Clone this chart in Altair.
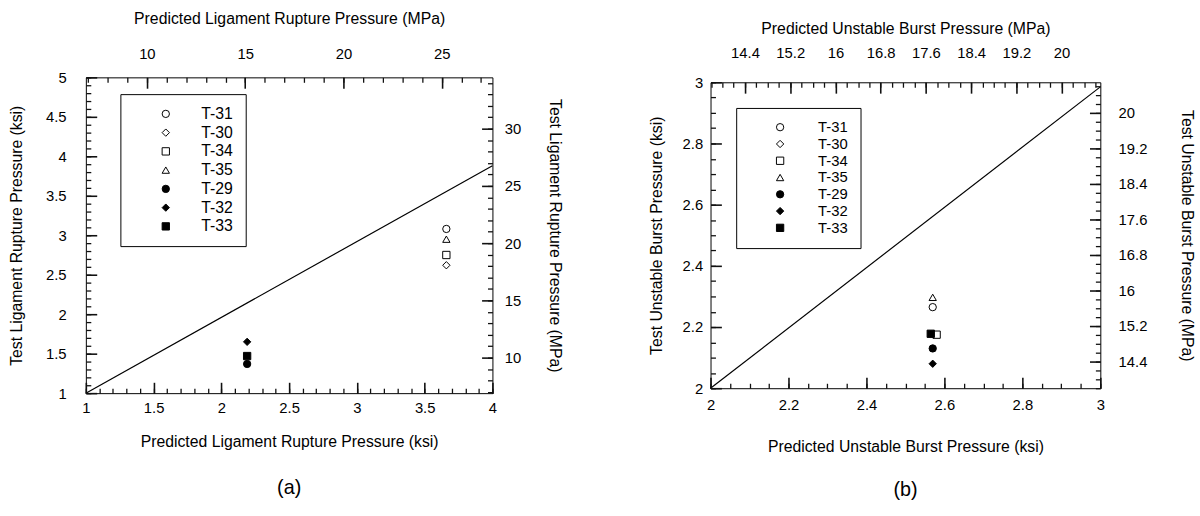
import altair as alt
import pandas as pd

K = 6.895  # MPa per ksi

SERIES = ["T-31", "T-30", "T-34", "T-35", "T-29", "T-32", "T-33"]
SHAPES = ["circle", "diamond", "square", "triangle-up", "circle", "diamond", "square"]
FILLS = ["white", "white", "white", "white", "black", "black", "black"]
STROKES = ["black"] * 7

# ---- panel (a) data ----
a_names = ["T-31", "T-30", "T-34", "T-35", "T-29", "T-32", "T-33"]
a_pred = [3.66, 3.66, 3.66, 3.66, 2.19, 2.19, 2.19]
a_test = [3.08, 2.62, 2.75, 2.95, 1.37, 1.65, 1.47]
a_line_x = [1.0, 4.0]
a_line_y = [1.0, 3.88]
a_xticks = [1, 1.5, 2, 2.5, 3, 3.5, 4]
a_yticks = [1, 1.5, 2, 2.5, 3, 3.5, 4, 4.5, 5]
a_top_ticks = [10, 15, 20, 25]
a_right_ticks = [10, 15, 20, 25, 30]

# ---- panel (b) data ----
b_names = ["T-31", "T-34", "T-35", "T-29", "T-32", "T-33"]
b_pred = [2.57, 2.58, 2.57, 2.57, 2.57, 2.565]
b_test = [2.265, 2.175, 2.297, 2.13, 2.08, 2.178]
b_line_x = [2.0, 3.0]
b_line_y = [2.0, 2.985]
b_xticks = [2, 2.2, 2.4, 2.6, 2.8, 3]
b_yticks = [2, 2.2, 2.4, 2.6, 2.8, 3]
b_mpa_ticks = [14.4, 15.2, 16, 16.8, 17.6, 18.4, 19.2, 20]

MAJOR = 11
MINOR = 5


def minor(lo, hi, step):
    n = int(round((hi - lo) / step))
    return [round(lo + i * step, 4) for i in range(n + 1)]


def axis(orient, values, tick, labels=False, title=None, lp=4, tp=10, tw=1.6):
    kw = dict(orient=orient, values=values, tickSize=tick, offset=-tick,
              domain=False, grid=False, labels=labels, ticks=True,
              tickColor="#111111", tickWidth=tw, tickOpacity=1, title=title,
              zindex=2)
    if labels:
        kw.update(labelPadding=lp, format=".1~f", labelFontSize=15,
                  labelColor="black", labelFlush=False, labelOverlap=False,
                  labelFont="Liberation Sans")
    if title:
        kw.update(titlePadding=tp, titleFontSize=16, titleFontWeight="normal",
                  titleColor="black", titleFont="Liberation Sans")
    return alt.Axis(**kw)


def panel(names, pred, test, lx, ly, xdom, ydom, xt, yt, xminor, yminor,
          topt, rightt, topminor, rightminor, titles, pads, legend_xy,
          legend_font, w, h, tag, tag_offset):
    line_df = pd.DataFrame({"x": lx, "y": ly})
    mpa_df = pd.DataFrame({"xm": [v * K for v in lx], "ym": [v * K for v in ly]})
    pts_df = pd.DataFrame({"series": names, "pred": pred, "test": test})

    def xs():
        return alt.Scale(domain=xdom, nice=False, zero=False)

    def ys():
        return alt.Scale(domain=ydom, nice=False, zero=False)

    def xms():
        return alt.Scale(domain=[xdom[0] * K, xdom[1] * K], nice=False, zero=False)

    def yms():
        return alt.Scale(domain=[ydom[0] * K, ydom[1] * K], nice=False, zero=False)

    line = alt.Chart(line_df).mark_line(color="black", strokeWidth=1.2).encode(
        x=alt.X("x:Q", scale=xs(),
                axis=axis("bottom", xt, MAJOR, True, titles[0], pads[0], pads[1])),
        y=alt.Y("y:Q", scale=ys(),
                axis=axis("left", yt, MAJOR, True, titles[1], pads[2], pads[3])),
    )
    minor_l = alt.Chart(line_df).mark_point(opacity=0).encode(
        x=alt.X("x:Q", scale=xs(), axis=axis("bottom", xminor, MINOR, tw=1.3)),
        y=alt.Y("y:Q", scale=ys(), axis=axis("left", yminor, MINOR, tw=1.3)),
    )
    mpa = alt.Chart(mpa_df).mark_point(opacity=0).encode(
        x=alt.X("xm:Q", scale=xms(),
                axis=axis("top", topt, MAJOR, True, titles[2], pads[4], pads[5])),
        y=alt.Y("ym:Q", scale=yms(),
                axis=axis("right", rightt, MAJOR, True, titles[3], pads[6], pads[7])),
    )
    mpa_minor = alt.Chart(mpa_df).mark_point(opacity=0).encode(
        x=alt.X("xm:Q", scale=xms(), axis=axis("top", topminor, MINOR, tw=1.3)),
        y=alt.Y("ym:Q", scale=yms(), axis=axis("right", rightminor, MINOR, tw=1.3)),
    )
    leg = alt.Legend(orient="none", legendX=legend_xy[0], legendY=legend_xy[1],
                     title=None, padding=12, strokeColor="black",
                     symbolOffset=legend_xy[2], labelOffset=legend_xy[3],
                     rowPadding=legend_xy[4], labelFontSize=legend_font,
                     labelFont="Liberation Sans", labelColor="black",
                     symbolSize=55, symbolStrokeColor="black",
                     symbolStrokeWidth=1)
    pts = alt.Chart(pts_df).mark_point(filled=True, stroke="black",
                                       strokeWidth=1, size=55, opacity=1).encode(
        x=alt.X("pred:Q", scale=xs(), axis=None),
        y=alt.Y("test:Q", scale=ys(), axis=None),
        shape=alt.Shape("series:N", scale=alt.Scale(domain=SERIES, range=SHAPES),
                        legend=leg),
        fill=alt.Fill("series:N", scale=alt.Scale(domain=SERIES, range=FILLS),
                      legend=leg),
        stroke=alt.Stroke("series:N", scale=alt.Scale(domain=SERIES, range=STROKES),
                          legend=leg),
    )
    return alt.layer(line, minor_l, mpa, mpa_minor, pts).resolve_scale(
        x="independent", y="independent"
    ).properties(
        width=w, height=h,
        title=alt.TitleParams(tag, orient="bottom", fontSize=20,
                              fontWeight="normal", offset=tag_offset,
                              font="Liberation Sans", color="black"),
    )


left = panel(
    a_names, a_pred, a_test, a_line_x, a_line_y, [1, 4], [1, 5],
    a_xticks, a_yticks, minor(1, 4, 0.1), minor(1, 5, 0.1),
    a_top_ticks, a_right_ticks, minor(7, 27, 1), minor(7, 34, 1),
    ["Predicted Ligament Rupture Pressure (ksi)",
     "Test Ligament Rupture Pressure (ksi)",
     "Predicted Ligament Rupture Pressure (MPa)",
     "Test Ligament Rupture Pressure (MPa)"],
    [8, 18, 20, 21, 16, 21, 12, 26],
    [35, 17, 26, 28, 3], 16, 412, 320, "(a)", 29,
)

right = panel(
    b_names, b_pred, b_test, b_line_x, b_line_y, [2, 3], [2, 3],
    b_xticks, b_yticks, minor(2, 3, 0.05), minor(2, 3, 0.05),
    b_mpa_ticks, b_mpa_ticks, minor(13.8, 20.6, 0.2), minor(13.8, 20.6, 0.2),
    ["Predicted Unstable Burst Pressure (ksi)",
     "Test Unstable Burst Pressure (ksi)",
     "Predicted Unstable Burst Pressure (MPa)",
     "Test Unstable Burst Pressure (MPa)"],
    [10, 26, 8, 18, 22, 9, 18, 32],
    [26, 26, 25, 31, 1], 15, 395, 310, "(b)", 26,
)

chart = alt.hconcat(left, right, spacing=221, bounds="flush", center=True).resolve_scale(
    shape="independent", fill="independent", stroke="independent"
).resolve_legend(
    shape="independent", fill="independent", stroke="independent"
).properties(
    padding={"left": 8, "top": 6, "right": 5, "bottom": 5}
).configure(
    font="Liberation Sans"
).configure_view(
    stroke="black", strokeWidth=1
)

chart.save("out.html", embed_options={"renderer": "svg", "actions": False})
